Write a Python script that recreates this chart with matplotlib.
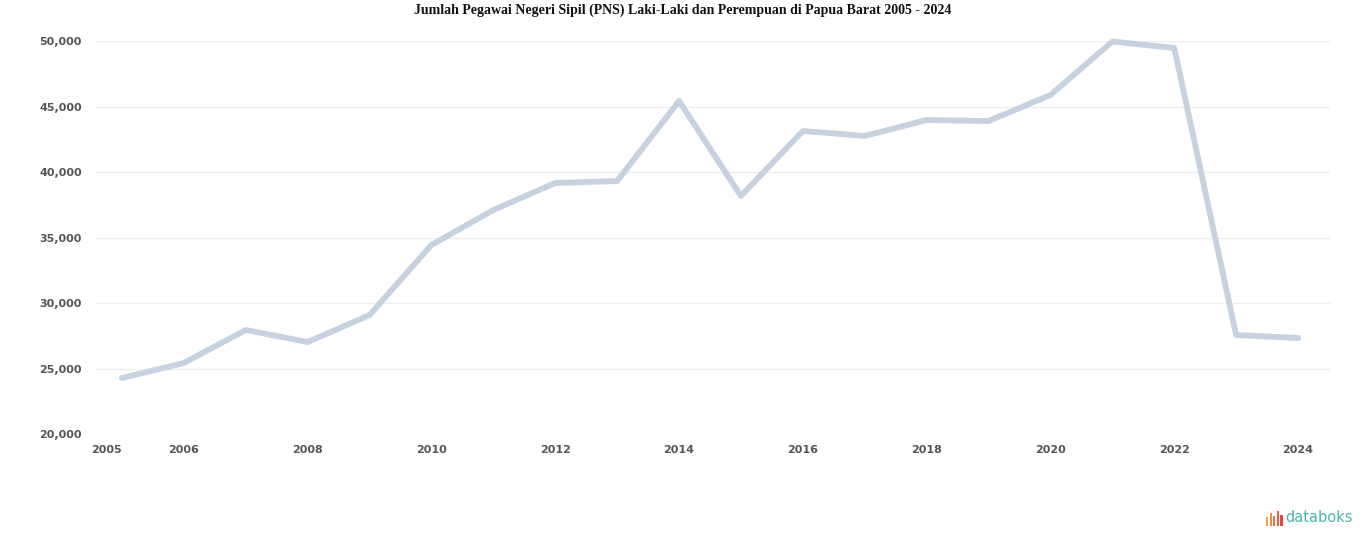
import matplotlib
matplotlib.use('Agg')
import matplotlib.pyplot as plt
from matplotlib.patches import Rectangle
from matplotlib.ticker import FuncFormatter

# data
years = list(range(2005, 2025))
pns = [24270, 25420, 27940, 27020, 29080, 34430, 37100, 39160, 39310, 45420,
       38170, 43130, 42750, 43970, 43890, 45880, 49960, 49470, 27560, 27330]
y_ticks = [20000, 25000, 30000, 35000, 40000, 45000, 50000]
x_ticks = [2005, 2006, 2008, 2010, 2012, 2014, 2016, 2018, 2020, 2022, 2024]
title = 'Jumlah Pegawai Negeri Sipil (PNS) Laki-Laki dan Perempuan di Papua Barat 2005 - 2024'

W, H = 1366, 547
fig = plt.figure(figsize=(W / 100, H / 100), dpi=100)
ax = fig.add_axes([95 / W, 1 - 434 / H, (1330 - 95) / W, (434 - 41) / H])

ax.plot(years, pns, color='#c6d2e0', lw=4.2, solid_joinstyle='round',
        solid_capstyle='round', clip_on=False, zorder=3)

ax.set_xlim(2004.565, 2024.516)
ax.set_ylim(y_ticks[0], y_ticks[-1])
ax.set_yticks(y_ticks)
ax.yaxis.set_major_formatter(FuncFormatter(lambda v, p: '{:,.0f}'.format(v)))
ax.set_xticks(x_ticks)
ax.set_xticklabels([str(y) for y in x_ticks])
ax.get_xticklabels()[0].set_horizontalalignment('right')

ax.grid(axis='y', color='#eeeeee', lw=1)
ax.set_axisbelow(True)
for s in ax.spines.values():
    s.set_visible(False)
ax.tick_params(axis='both', length=0, labelsize=8, colors='#555555')
ax.tick_params(axis='y', pad=9.5)
ax.tick_params(axis='x', pad=8)
for lbl in ax.get_yticklabels() + ax.get_xticklabels():
    lbl.set_fontweight('bold')

fig.text(0.5, 1 - 10 / H, title, ha='center', va='center',
         family=['Liberation Serif', 'DejaVu Serif'], fontweight='bold',
         fontsize=10, color='#111111')

# databoks logo
bar_cols = ['#f4a04a', '#f08a45', '#ec7042', '#e95a40', '#e6463e']
bar_h = [9, 13, 10, 15, 11]
for i, (c, h) in enumerate(zip(bar_cols, bar_h)):
    x0 = 1266 + i * 3.6
    fig.add_artist(Rectangle((x0 / W, 1 - 526 / H), 2.2 / W, h / H,
                             transform=fig.transFigure, color=c, lw=0))
fig.text(1285 / W, 1 - 518 / H, 'databoks', ha='left', va='center',
         fontsize=10.5, color='#4cb5ab', family='DejaVu Sans')

fig.savefig('out.png', dpi=100, facecolor='white')
